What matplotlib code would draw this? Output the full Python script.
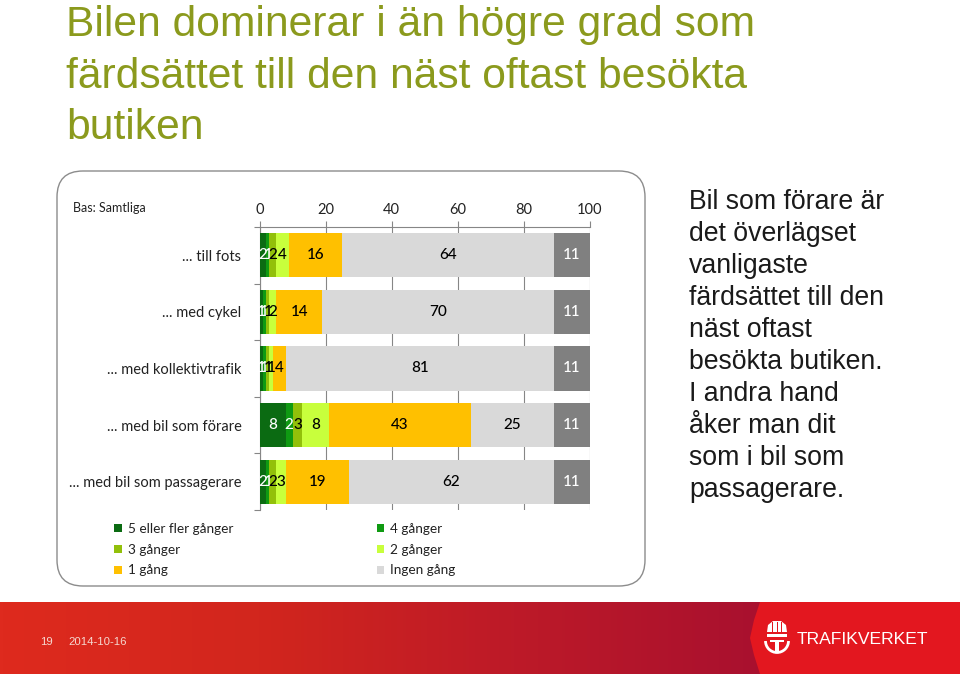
import matplotlib
matplotlib.use("Agg")
import matplotlib.pyplot as plt
import numpy as np
from matplotlib.colors import LinearSegmentedColormap
from matplotlib.patches import FancyBboxPatch, Polygon, Rectangle, Arc

# data, top row first
categories = ["... till fots", "... med cykel", "... med kollektivtrafik",
              "... med bil som förare", "... med bil som passagerare"]
series_names = ["5 eller fler gånger", "4 gånger", "3 gånger", "2 gånger", "1 gång", "Ingen gång", "Vet ej"]
fem_eller_fler = [2, 1, 1, 8, 2]
fyra_ganger = [1, 1, 1, 2, 1]
tre_ganger = [2, 1, 1, 3, 2]
tva_ganger = [4, 2, 1, 8, 3]
en_gang = [16, 14, 4, 43, 19]
ingen_gang = [64, 70, 81, 25, 62]
vet_ej = [11, 11, 11, 11, 11]
x_ticks = [0, 20, 40, 60, 80, 100]

all_series = [fem_eller_fler, fyra_ganger, tre_ganger, tva_ganger, en_gang, ingen_gang, vet_ej]
colors = ["#0b6b12", "#0f9a12", "#92c00a", "#c8ff3c", "#ffc000", "#d9d9d9", "#808080"]
label_colors = ["white", "white", "black", "black", "black", "black", "white"]

title_lines = ["Bilen dominerar i än högre grad som", "färdsättet till den näst oftast besökta", "butiken"]
side_lines = ["Bil som förare är", "det överlägset", "vanligaste", "färdsättet till den", "näst oftast",
              "besökta butiken.", "I andra hand", "åker man dit", "som i bil som", "passagerare."]

W, H = 960, 674
CHART_FONT = "Lato"
SLIDE_FONT = "Liberation Sans"

fig = plt.figure(figsize=(W / 100, H / 100), dpi=100, facecolor="white")

# slide background, pixel coordinates
bg = fig.add_axes([0, 0, 1, 1])
bg.set_xlim(0, W)
bg.set_ylim(H, 0)
bg.axis("off")

for i, line in enumerate(title_lines):
    bg.text(66, 25 + i * 51.5, line, fontsize=30.7, color="#8b9a1d", family=SLIDE_FONT, va="center")

bg.add_patch(FancyBboxPatch((57 + 26, 171 + 26), 588 - 52, 415 - 52,
                            boxstyle="round,pad=26,rounding_size=26",
                            fc="white", ec="#8c8c8c", lw=1.0))
bg.text(73, 208, "Bas: Samtliga", fontsize=9, color="#222222", family=CHART_FONT, va="center")

for i, line in enumerate(side_lines):
    bg.text(689, 202 + i * 32, line, fontsize=19.2, color="#1a1a1a", family=SLIDE_FONT, va="center")

# red footer
footer = LinearSegmentedColormap.from_list("footer", ["#de2a1e", "#d2261d", "#bd1a28", "#a8102f"])
bg.imshow(np.linspace(0, 1, 256).reshape(1, -1), cmap=footer, aspect="auto",
          extent=(0, 770, 674, 602), zorder=1)
bg.set_xlim(0, W)
bg.set_ylim(H, 0)
bg.text(40, 642, "19", fontsize=8.2, color="#f5d8d0", family=SLIDE_FONT, va="center")
bg.text(68, 642, "2014-10-16", fontsize=8.2, color="#f5d8d0", family=SLIDE_FONT, va="center")

# logo panel and a rough crown mark
bg.add_patch(Polygon([(760, 602), (960, 602), (960, 674), (760, 674), (754, 655), (750, 638),
                      (754, 620)], fc="#e3171f", ec="none", zorder=2))
bg.add_patch(Polygon([(767, 632), (787, 632), (786, 625), (781, 621), (773, 621), (768, 625)],
                     fc="white", ec="none", zorder=3))
for sx in [772, 776.5, 781]:
    bg.add_patch(Rectangle((sx, 622), 1, 10, fc="#e3171f", ec="none", zorder=3.1))
bg.add_patch(Rectangle((767, 634), 20, 2.5, fc="white", ec="none", zorder=3))
bg.add_patch(Rectangle((770, 639.5), 14, 2.5, fc="white", ec="none", zorder=3))
bg.add_patch(Rectangle((775, 639.5), 4, 12, fc="white", ec="none", zorder=3))
bg.add_patch(Arc((777, 641), 23, 23, theta1=0, theta2=180, ec="white", lw=2, zorder=3))
bg.text(797, 640, "TRAFIKVERKET", fontsize=12.6, color="white", family=SLIDE_FONT,
        va="center", zorder=3)

# chart axes: x=0 at 259.5, x=100 at 590, y from 227 to 510
ax = fig.add_axes([259.5 / W, 1 - 510 / H, (590 - 259.5) / W, (510 - 227) / H])
ax.patch.set_alpha(0)
y = np.arange(len(categories))
left = np.zeros(len(categories))
handles = []
for values, color, label_color, name in zip(all_series, colors, label_colors, series_names):
    values = np.array(values)
    bars = ax.barh(y, values, left=left, height=0.78, color=color, zorder=3, label=name)
    handles.append(bars)
    for yi, start, v in zip(y, left, values):
        ax.text(start + v / 2, yi, str(v), ha="center", va="center", fontsize=11,
                color=label_color, family=CHART_FONT, weight="medium", zorder=4)
    left += values

ax.set_xlim(0, 100)
ax.set_ylim(len(categories) - 0.5, -0.5)
ax.xaxis.tick_top()
ax.set_xticks(x_ticks)
ax.set_xticklabels([str(t) for t in x_ticks], fontsize=10.5, color="#222222", family=CHART_FONT)
ax.set_yticks(y)
ax.set_yticklabels(categories, fontsize=10.5, color="#222222", family=CHART_FONT)
ax.set_yticks(np.arange(len(categories) + 1) - 0.5, minor=True)
ax.tick_params(axis="y", which="major", length=0, pad=13)
ax.tick_params(axis="y", which="minor", length=4, width=0.8, color="#868686")
ax.tick_params(axis="x", length=4, width=0.8, color="#868686", pad=3.5)
ax.grid(axis="x", color="#868686", lw=0.8, zorder=0)
ax.set_axisbelow(True)
for side in ["right", "bottom"]:
    ax.spines[side].set_visible(False)
for side in ["left", "top"]:
    ax.spines[side].set_color("#868686")
    ax.spines[side].set_linewidth(0.8)

# legend fills column by column; grey "Vet ej" series has no entry in the original
legend_order = [0, 2, 4, 1, 3, 5]
leg = bg.legend([handles[i] for i in legend_order], [series_names[i] for i in legend_order],
                ncol=2, loc="upper left", bbox_to_anchor=(102 / W, 1 - 510.5 / H), frameon=False,
                prop={"family": CHART_FONT, "size": 9.8}, handlelength=0.55, handleheight=0.55,
                handletextpad=0.45, labelspacing=0.65, columnspacing=10.55, borderpad=0.4,
                labelcolor="#222222")
leg.set_zorder(5)

fig.savefig("out.png", dpi=100)
